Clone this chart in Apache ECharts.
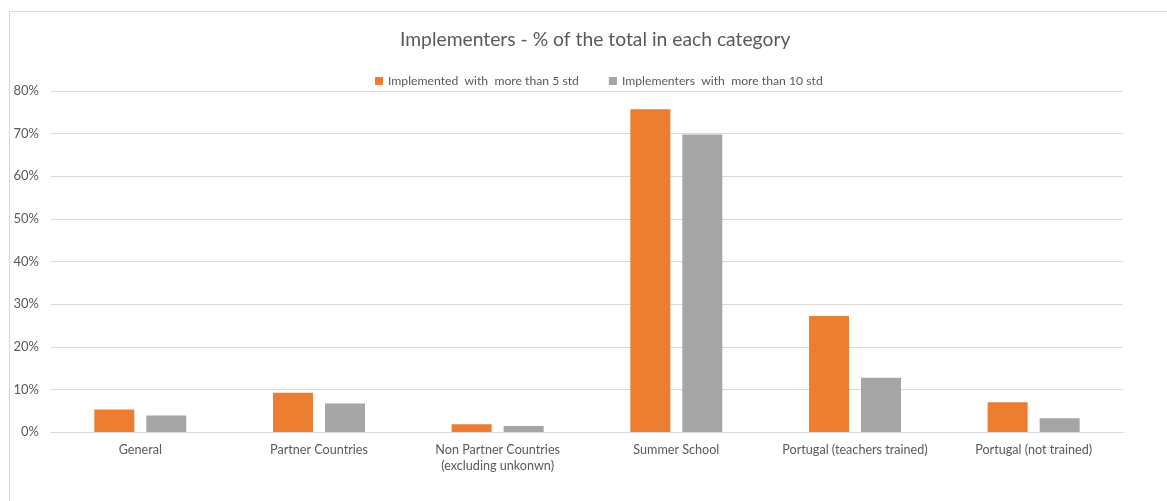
<!DOCTYPE html>
<html>
<head>
<meta charset="utf-8">
<script src="https://cdn.jsdelivr.net/npm/echarts@6/dist/echarts.min.js"></script>
<style>
  html, body { margin: 0; padding: 0; background: #fff; }
  #chart { width: 1167px; height: 501px; }
</style>
</head>
<body>
<div id="chart"></div>
<script>
// Share of implementers per category (percent)
const categories = [
  'General',
  'Partner Countries',
  'Non Partner Countries\n(excluding unkonwn)',
  'Summer School',
  'Portugal (teachers trained)',
  'Portugal (not trained)'
];
const seriesNames = ['Implemented  with  more than 5 std', 'Implementers  with  more than 10 std'];
const moreThan5 = [5.3, 9.2, 1.8, 75.7, 27.2, 7.0];
const moreThan10 = [3.9, 6.7, 1.4, 69.8, 12.7, 3.2];
const yTicks = { min: 0, max: 80, interval: 10 };

const FONT = 'Lato, "Open Sans", sans-serif';
const TEXT = '#595959';
const LINE = '#d9d9d9';

const chart = echarts.init(document.getElementById('chart'), null, { renderer: 'canvas' });
chart.setOption({
  backgroundColor: '#fff',
  animation: false,
  title: {
    text: 'Implementers - % of the total in each category',
    left: 395,
    top: 25,
    textStyle: { fontFamily: FONT, fontSize: 19.3, fontWeight: 'normal', color: TEXT }
  },
  legend: {
    top: 70,
    left: 370,
    itemWidth: 8,
    itemHeight: 8,
    itemGap: 30,
    icon: 'rect',
    textStyle: { fontFamily: FONT, fontSize: 12.2, color: TEXT },
    data: seriesNames
  },
  grid: { left: 51, right: 44, top: 91, bottom: 69, containLabel: false },
  xAxis: {
    type: 'category',
    data: categories,
    axisLine: { lineStyle: { color: LINE, width: 1 } },
    axisTick: { show: false },
    axisLabel: { fontFamily: FONT, fontSize: 12.6, color: TEXT, margin: 10, lineHeight: 16, interval: 0 }
  },
  yAxis: {
    type: 'value',
    min: yTicks.min,
    max: yTicks.max,
    interval: yTicks.interval,
    axisLine: { show: false },
    axisTick: { show: false },
    splitLine: { lineStyle: { color: LINE, width: 1 } },
    axisLabel: { formatter: '{value}%', fontFamily: FONT, fontSize: 13, color: TEXT, margin: 12 }
  },
  series: [
    {
      name: seriesNames[0],
      type: 'bar',
      data: moreThan5,
      barWidth: 40,
      barGap: '30%',
      itemStyle: { color: '#ED7D31' }
    },
    {
      name: seriesNames[1],
      type: 'bar',
      data: moreThan10,
      barWidth: 40,
      barGap: '30%',
      itemStyle: { color: '#A5A5A5' }
    }
  ],
  graphic: [
    { type: 'line', shape: { x1: 9.5, y1: 11.5, x2: 1167, y2: 11.5 }, style: { stroke: LINE, lineWidth: 1 } },
    { type: 'line', shape: { x1: 9.5, y1: 11.5, x2: 9.5, y2: 501 }, style: { stroke: LINE, lineWidth: 1 } }
  ]
});
</script>
</body>
</html>
